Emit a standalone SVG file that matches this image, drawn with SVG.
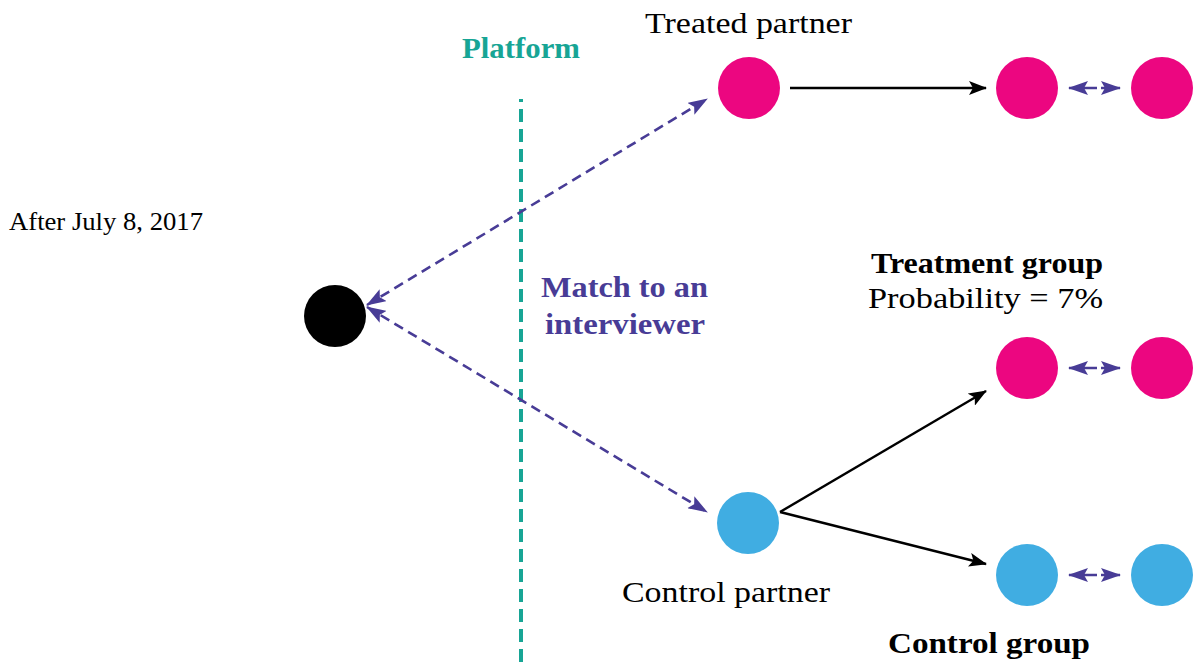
<svg xmlns="http://www.w3.org/2000/svg" width="1198" height="665" viewBox="0 0 1198 665">
<style>
.t{font-family:"Liberation Serif","Times New Roman",serif;font-size:30px;fill:#000}
.b{font-weight:bold}
.pink{fill:#EC0680}
.blue{fill:#40ADE2}
.blk{stroke:#000;stroke-width:2.4;fill:none}
.pd{stroke:#483C96;stroke-width:2.6;fill:none;stroke-dasharray:10 6}
.pair{stroke:#483C96;stroke-width:2.6;fill:none;stroke-dasharray:28 4 100}
</style>
<defs>
<marker id="ab" markerUnits="userSpaceOnUse" markerWidth="18" markerHeight="14" refX="17" refY="7" orient="auto-start-reverse">
<path d="M0,0 L18,7 L0,14 L4,7 z" fill="#000"/>
</marker>
<marker id="ap" markerUnits="userSpaceOnUse" markerWidth="20" markerHeight="14" refX="19" refY="7" orient="auto-start-reverse">
<path d="M0,0 L20,7 L0,14 L4,7 z" fill="#483C96"/>
</marker>
</defs>
<rect width="1198" height="665" fill="#fff"/>
<g id="platform">
<line x1="521" y1="99" x2="521" y2="665" stroke="#17A595" stroke-width="4" stroke-dasharray="3 7 13 7 13 7 13 7 13 7 13 7 13 7 13 7 13 7 13 7 13 7 13 7 13 7 13 7 13 7 13 7 13 7 13 7 13 7 13 7 13 7 13 7 13 7 13 7 13 7 13 7 13 7 13 7 13 7 13 7 13 7 13 7 13 7 13 7 13 7 13 7 13 7 13 7 13 7 13 7 13 7 13 7 13 7 13 7"/>
<text class="t b" x="521" y="58" text-anchor="middle" style="fill:#17A595" textLength="118" lengthAdjust="spacingAndGlyphs">Platform</text>
</g>
<g id="connectors">
<path class="pd" d="M367,305 L707,99" marker-start="url(#ap)" marker-end="url(#ap)"/>
<path class="pd" d="M367,307 L707,512" marker-start="url(#ap)" marker-end="url(#ap)"/>
<path class="blk" d="M790,88 L986,88" marker-end="url(#ab)"/>
<path class="blk" d="M780,512 L986,391" marker-end="url(#ab)"/>
<path class="blk" d="M780,512 L986,564" marker-end="url(#ab)"/>
<path class="pair" d="M1069,88 L1120,88" marker-start="url(#ap)" marker-end="url(#ap)"/>
<path class="pair" d="M1069,368 L1120,368" marker-start="url(#ap)" marker-end="url(#ap)"/>
<path class="pair" d="M1069,575 L1120,575" marker-start="url(#ap)" marker-end="url(#ap)"/>
</g>
<g id="origin">
<circle cx="335" cy="316" r="31" fill="#000"/>
<text class="t" x="9" y="230" style="font-size:26px" textLength="194" lengthAdjust="spacingAndGlyphs">After July 8, 2017</text>
</g>
<g id="match-label">
<text class="t b" x="541" y="297" style="fill:#483C96" textLength="167" lengthAdjust="spacingAndGlyphs">Match to an</text>
<text class="t b" x="545" y="334" style="fill:#483C96" textLength="160" lengthAdjust="spacingAndGlyphs">interviewer</text>
</g>
<g id="treated-partner">
<circle class="pink" cx="749" cy="88" r="31"/>
<text class="t" x="645" y="33" textLength="207" lengthAdjust="spacingAndGlyphs">Treated partner</text>
</g>
<g id="treated-a"><circle class="pink" cx="1027" cy="88" r="31"/></g>
<g id="treated-b"><circle class="pink" cx="1162" cy="88" r="31"/></g>
<g id="treatment-group">
<text class="t b" x="871" y="273" textLength="232" lengthAdjust="spacingAndGlyphs">Treatment group</text>
<text class="t" x="868" y="308" textLength="235" lengthAdjust="spacingAndGlyphs">Probability = 7%</text>
</g>
<g id="treat-a"><circle class="pink" cx="1027" cy="368" r="31"/></g>
<g id="treat-b"><circle class="pink" cx="1162" cy="368" r="31"/></g>
<g id="control-partner">
<circle class="blue" cx="748" cy="523" r="31"/>
<text class="t" x="622" y="602" textLength="208" lengthAdjust="spacingAndGlyphs">Control partner</text>
</g>
<g id="control-a"><circle class="blue" cx="1027" cy="575" r="31"/></g>
<g id="control-b"><circle class="blue" cx="1162" cy="575" r="31"/></g>
<g id="control-group">
<text class="t b" x="888" y="653" textLength="202" lengthAdjust="spacingAndGlyphs">Control group</text>
</g>
</svg>
